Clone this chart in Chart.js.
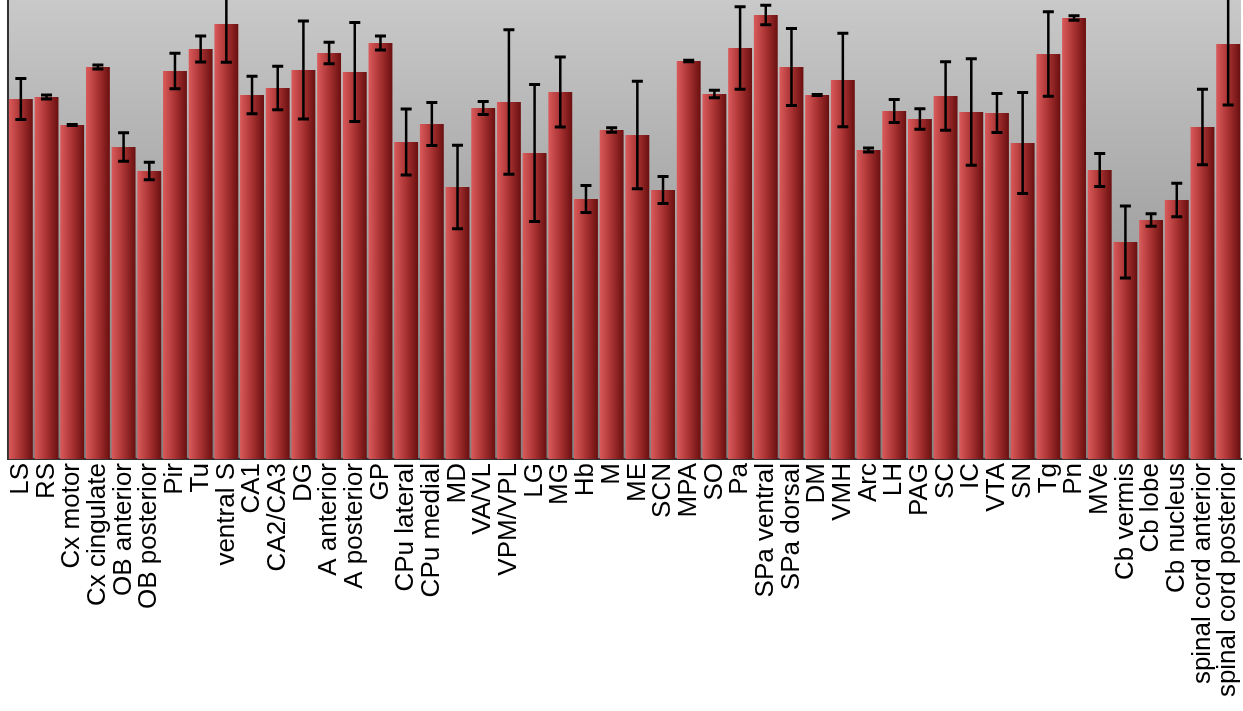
<!DOCTYPE html>
<html>
<head>
<meta charset="utf-8">
<script src="https://cdn.jsdelivr.net/npm/chart.js@4.4.1/dist/chart.umd.min.js"></script>
<style>
  html, body { margin: 0; padding: 0; background: #fff; }
  #wrap { width: 1243px; height: 711px; }
</style>
</head>
<body>
<div id="wrap"><canvas id="chart"></canvas></div>
<script>
const regions = [
  "LS", "RS", "Cx motor", "Cx cingulate", "OB anterior", "OB posterior", "Pir", "Tu",
  "ventral S", "CA1", "CA2/CA3", "DG", "A anterior", "A posterior", "GP", "CPu lateral",
  "CPu medial", "MD", "VA/VL", "VPM/VPL", "LG", "MG", "Hb", "M",
  "ME", "SCN", "MPA", "SO", "Pa", "SPa ventral", "SPa dorsal", "DM",
  "VMH", "Arc", "LH", "PAG", "SC", "IC", "VTA", "SN",
  "Tg", "Pn", "MVe", "Cb vermis", "Cb lobe", "Cb nucleus", "spinal cord anterior", "spinal cord posterior"
];

const means = [
  36.0, 36.2, 33.4, 39.2, 31.2, 28.8, 38.8, 41.0,
  43.5, 36.4, 37.1, 38.9, 40.6, 38.7, 41.6, 31.7,
  33.5, 27.2, 35.1, 35.7, 30.6, 36.7, 26.0, 32.9,
  32.4, 26.9, 39.8, 36.5, 41.1, 44.4, 39.2, 36.4,
  37.9, 30.9, 34.8, 34.0, 36.3, 34.7, 34.6, 31.6,
  40.5, 44.1, 28.9, 21.7, 23.9, 25.9, 33.2, 41.5
];

const errors = [
  2.05, 0.2, 0.05, 0.2, 1.43, 0.87, 1.78, 1.3,
  3.83, 1.88, 2.18, 4.9, 1.07, 4.95, 0.7, 3.3,
  2.15, 4.17, 0.65, 7.22, 6.85, 3.5, 1.35, 0.23,
  5.38, 1.35, 0.08, 0.38, 4.12, 0.97, 3.85, 0.06,
  4.67, 0.2, 1.15, 1.02, 3.42, 5.33, 1.95, 5.05,
  4.23, 0.23, 1.65, 3.6, 0.62, 1.67, 3.78, 6.1
];

const BAR_PCT = 0.93;

// gray gradient behind the bars
const plotBackground = {
  id: "plotBackground",
  beforeDraw(chart) {
    const { ctx, chartArea: a } = chart;
    const g = ctx.createLinearGradient(0, a.top, 0, a.bottom);
    g.addColorStop(0, "#c9c9c9");
    g.addColorStop(1, "#808080");
    ctx.save();
    ctx.fillStyle = g;
    ctx.fillRect(a.left, a.top, a.right - a.left, a.bottom - a.top);
    ctx.restore();
  },
};

// left-to-right shading, one gradient per bar
function barFill(context) {
  const chart = context.chart;
  const xs = chart.scales.x;
  if (!chart.chartArea || !xs || context.dataIndex === undefined) return "#b03a3a";
  const cx = xs.getPixelForValue(context.dataIndex);
  const half = (xs.width / regions.length) * BAR_PCT / 2;
  const g = chart.ctx.createLinearGradient(cx - half, 0, cx + half, 0);
  g.addColorStop(0, "#da5a5b");
  g.addColorStop(0.5, "#a93232");
  g.addColorStop(1, "#6a0f10");
  return g;
}

const errorBars = {
  id: "errorBars",
  afterDatasetsDraw(chart) {
    const { ctx } = chart;
    const y = chart.scales.y;
    const meta = chart.getDatasetMeta(0);
    ctx.save();
    ctx.strokeStyle = "#000";
    meta.data.forEach((bar, i) => {
      const top = y.getPixelForValue(means[i] + errors[i]);
      const bot = y.getPixelForValue(means[i] - errors[i]);
      ctx.lineWidth = 2.5;
      ctx.beginPath();
      ctx.moveTo(bar.x, top);
      ctx.lineTo(bar.x, bot);
      ctx.stroke();
      ctx.lineWidth = 3;
      ctx.beginPath();
      ctx.moveTo(bar.x - 5.5, top);
      ctx.lineTo(bar.x + 5.5, top);
      ctx.moveTo(bar.x - 5.5, bot);
      ctx.lineTo(bar.x + 5.5, bot);
      ctx.stroke();
    });
    ctx.restore();
  },
};

new Chart(document.getElementById("chart"), {
  type: "bar",
  data: {
    labels: regions,
    datasets: [
      {
        data: means,
        backgroundColor: barFill,
        borderWidth: 0,
        barPercentage: BAR_PCT,
        categoryPercentage: 1,
      },
    ],
  },
  options: {
    responsive: true,
    maintainAspectRatio: false,
    animation: false,
    layout: { padding: { left: 0, right: 2, top: 0, bottom: 0 } },
    plugins: {
      legend: { display: false },
      tooltip: { enabled: false },
    },
    scales: {
      x: {
        grid: { display: false, drawTicks: false },
        border: { display: true, color: "#333", width: 2 },
        ticks: {
          autoSkip: false,
          minRotation: 90,
          maxRotation: 90,
          padding: 4,
          color: "#000",
          font: { family: "'Liberation Sans', Arial, sans-serif", size: 26 },
        },
        afterFit: (s) => {
          s.height = 252;
          s.paddingLeft = 0;
          s.paddingRight = 0;
        },
      },
      y: {
        min: 0,
        max: 45.9,
        grid: { display: false, drawTicks: false },
        border: { display: true, color: "#333", width: 2 },
        ticks: { display: false },
        afterFit: (s) => {
          s.width = 8;
          s.paddingTop = 0;
          s.paddingBottom = 0;
        },
      },
    },
  },
  plugins: [plotBackground, errorBars],
});
</script>
</body>
</html>
